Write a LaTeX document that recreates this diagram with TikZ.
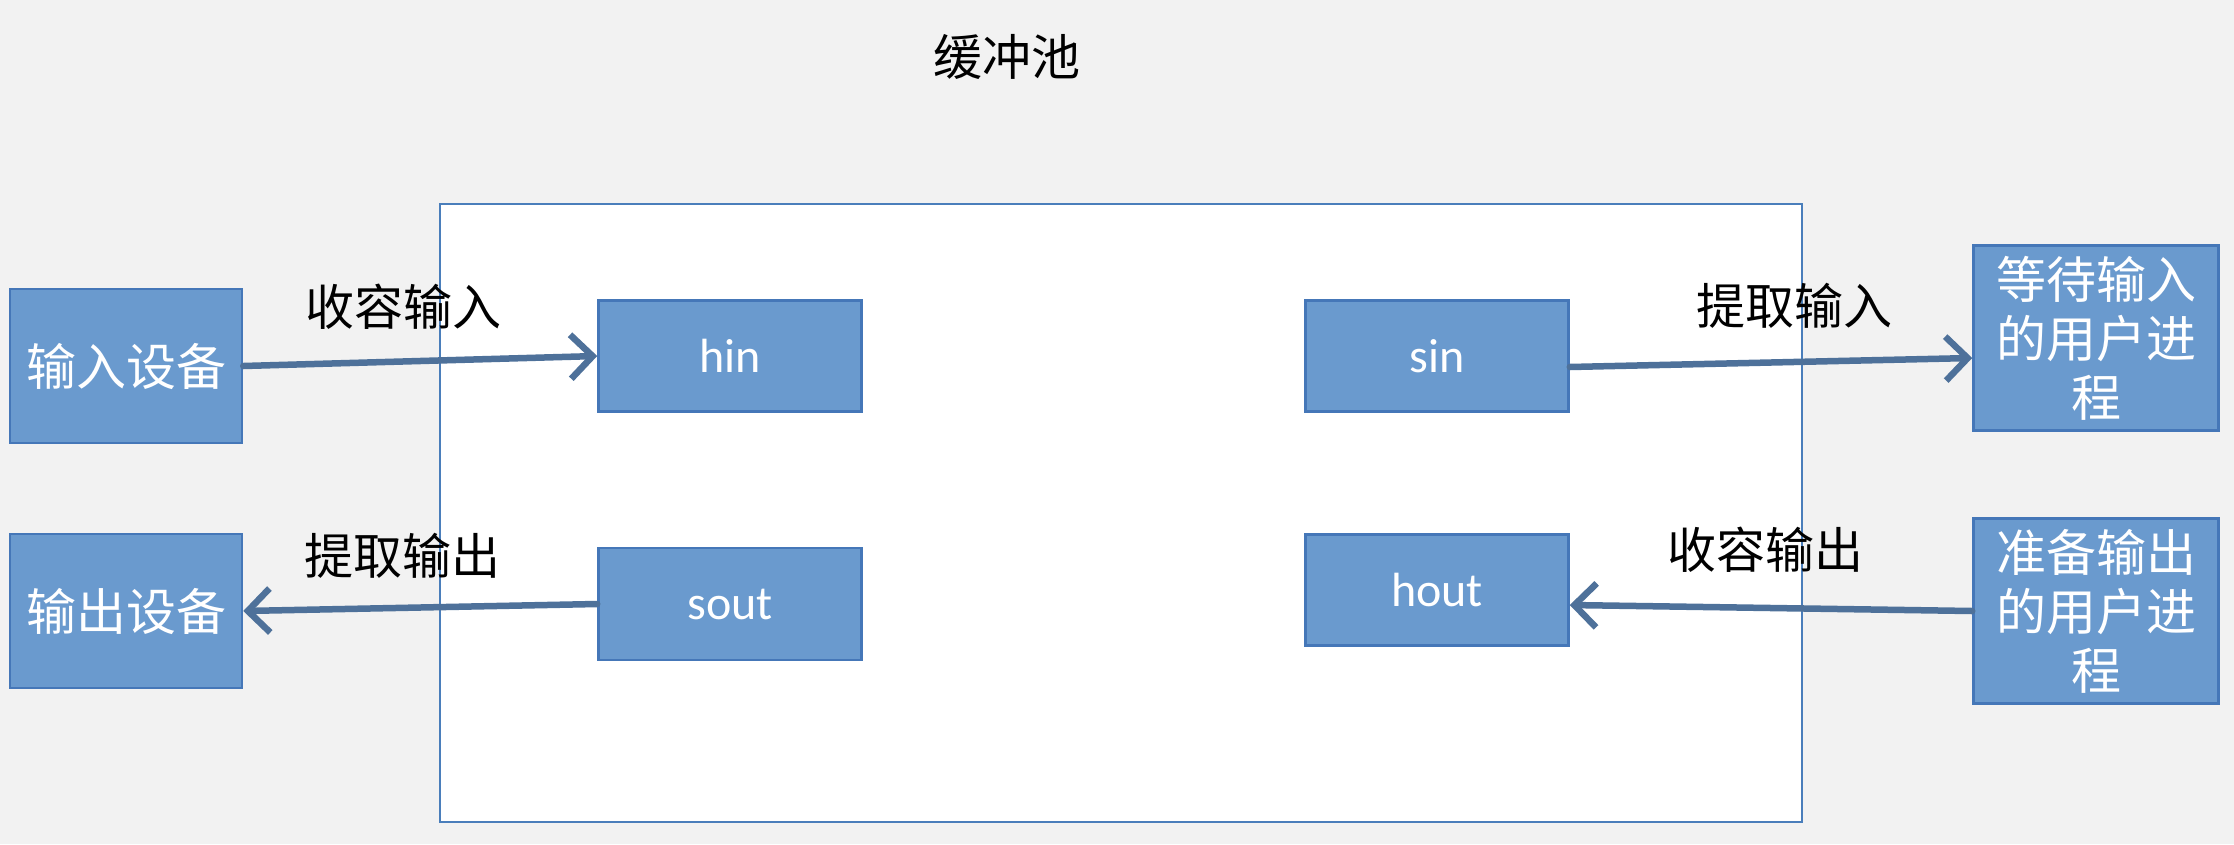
\documentclass[tikz,border=0pt]{standalone}
\usepackage{fontspec}
\setmainfont{Carlito}
\newfontfamily\cjk{Noto Sans CJK SC}
\usetikzlibrary{arrows.meta,calc}
\definecolor{bg}{RGB}{242,242,242}
\definecolor{boxfill}{RGB}{106,154,206}
\definecolor{boxline}{RGB}{69,119,184}
\definecolor{arrowc}{RGB}{78,113,154}
\definecolor{poolline}{RGB}{74,126,187}
\tikzset{
  bluebox/.style={draw=boxline, line width=2.5pt, fill=boxfill, text=white, inner sep=0pt, align=center},
  cjklabel/.style={font=\cjk\fontsize{50}{59}\selectfont},
  latlabel/.style={font=\fontsize{48}{56}\selectfont},
  flow/.style={draw=arrowc, line width=6.5pt, line cap=round, -{Straight Barb[length=22pt,width=44pt,line width=6.5pt]}},
  textlabel/.style={text=black, inner sep=0pt, font=\cjk\fontsize{49}{58}\selectfont}
}
\begin{document}
\begin{tikzpicture}[x=1pt,y=-1pt]
\fill[bg] (0,0) rectangle (2234,844);
\useasboundingbox (0,0) rectangle (2234,844);
\node[draw=poolline, line width=2pt, fill=white, minimum width=1362pt, minimum height=618pt, inner sep=0pt] (pool) at (1121,513) {};
\node[textlabel] (title) at (1007,57) {缓冲池};
\node[bluebox, cjklabel, minimum width=232pt, minimum height=154pt] (indev) at (126,366) {输入设备};
\node[bluebox, cjklabel, minimum width=232pt, minimum height=154pt] (outdev) at (126,611) {输出设备};
\node[bluebox, latlabel, minimum width=263pt, minimum height=111pt] (hin) at (730,356) {hin};
\node[bluebox, latlabel, minimum width=263pt, minimum height=112pt] (sout) at (730,604) {sout};
\node[bluebox, latlabel, minimum width=263pt, minimum height=111pt] (sin) at (1437,356) {sin};
\node[bluebox, latlabel, minimum width=263pt, minimum height=111pt] (hout) at (1437,590) {hout};
\node[bluebox, cjklabel, minimum width=245pt, minimum height=185pt] (waitin) at (2096,338) {等待输入\\的用户进\\程};
\node[bluebox, cjklabel, minimum width=245pt, minimum height=185pt] (readyout) at (2096,611) {准备输出\\的用户进\\程};
\node[textlabel] (l1) at (403,307) {收容输入};
\node[textlabel] (l2) at (402,556) {提取输出};
\node[textlabel] (l3) at (1794,306) {提取输入};
\node[textlabel] (l4) at (1765,550) {收容输出};
\draw[flow] (indev.east) -- (hin.west);
\draw[flow] (sout.west) -- (outdev.east);
\draw[flow] ($(sin.east)+(0,11)$) -- ($(waitin.west)+(0,20)$);
\draw[flow] (readyout.west) -- ($(hout.east)+(0,15)$);
\end{tikzpicture}
\end{document}
